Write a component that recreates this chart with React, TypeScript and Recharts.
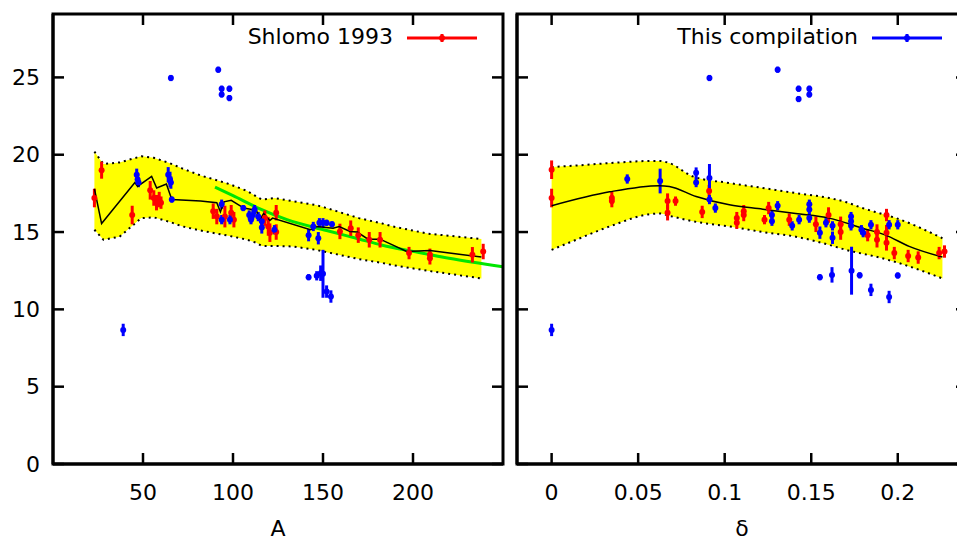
import React from 'react';
import { ComposedChart, XAxis, YAxis, Scatter, Line, Area, ErrorBar } from 'recharts';

// ---- left panel: radius vs mass number A ----
const shlomoA = [23, 27, 44, 54, 56, 57.5, 59, 60, 89, 91, 95.5, 99, 100.5, 117.7, 119.6, 120.5, 124, 124, 159.4, 165.4, 169.6, 175.7, 181.7, 197.8, 209.4, 209.4, 233, 239];
const shlomoR = [17.2, 19.0, 16.1, 17.7, 17.2, 16.9, 17.1, 16.9, 16.35, 16.0, 16.0, 16.25, 15.8, 15.9, 15.36, 14.96, 16.25, 15.0, 15.04, 15.25, 14.8, 14.5, 14.5, 13.64, 13.53, 13.3, 13.53, 13.74];
const shlomoErr = [0.6, 0.55, 0.6, 0.6, 0.5, 0.5, 0.5, 0.4, 0.5, 0.5, 0.7, 0.5, 0.5, 0.5, 0.6, 0.6, 0.5, 0.5, 0.5, 0.5, 0.5, 0.5, 0.5, 0.4, 0.4, 0.4, 0.5, 0.5];

const compA = [39, 65.5, 91.8, 93.7, 93.7, 98, 98, 46.5, 47, 47.5, 64, 65, 65.5, 66, 93.7, 93.7, 98.3, 105.7, 109, 110, 111, 112, 114, 116, 116, 123, 142, 144.6, 147.4, 148, 150, 152, 155, 142, 146.5, 148.7, 150, 152, 154.4];
const compR = [8.67, 24.96, 25.5, 24.27, 23.9, 24.27, 23.66, 18.7, 18.4, 18.2, 18.7, 18.4, 18.2, 17.1, 16.8, 15.8, 15.8, 16.55, 16.1, 15.8, 16.1, 16.45, 16.0, 15.7, 15.3, 15.15, 14.8, 15.36, 14.6, 15.6, 15.6, 15.6, 15.5, 12.08, 12.17, 12.34, 12.3, 11.15, 10.83];
const compErr = [0.4, 0.2, 0.2, 0.2, 0.2, 0.2, 0.2, 0.4, 0.4, 0.3, 0.5, 0.5, 0.4, 0.2, 0.3, 0.3, 0.3, 0.2, 0.3, 0.3, 0.3, 0.3, 0.3, 0.3, 0.4, 0.3, 0.4, 0.3, 0.4, 0.3, 0.3, 0.2, 0.2, 0.2, 0.3, 0.5, 1.55, 0.4, 0.4];

const bandA = [23, 28, 37, 49, 56, 65, 72, 82, 91, 98, 108, 113, 116, 123, 133, 146, 152, 170, 183, 189, 208, 238];
const bandALo = [15.15, 14.5, 14.7, 15.9, 15.95, 15.65, 15.36, 15.1, 14.9, 14.75, 14.5, 14.3, 14.1, 14.1, 14.07, 13.85, 13.7, 13.25, 13.0, 12.85, 12.5, 12.0];
const bandAHi = [20.2, 19.4, 19.5, 19.9, 19.8, 19.45, 19.1, 18.66, 18.35, 18.1, 17.65, 17.3, 17.1, 17.2, 17.0, 16.75, 16.55, 15.9, 15.55, 15.36, 14.9, 14.55];

const fitA = [23, 27, 45.5, 47, 54.8, 57.6, 63, 66, 82, 91, 93, 95, 99, 106, 113, 115, 117, 120.5, 122, 143, 146.5, 155.6, 159, 165, 169, 175, 181.7, 196.5, 209.4, 238];
const fitAR = [17.8, 15.55, 18.2, 17.95, 18.6, 17.85, 18.1, 17.1, 17.0, 16.9, 16.3, 16.95, 17.05, 16.55, 16.4, 15.8, 16.2, 15.75, 15.9, 15.15, 15.36, 15.25, 15.36, 15.04, 15.0, 14.54, 14.54, 13.74, 13.8, 13.38];

const greenA = [90, 100, 115, 130, 152, 170, 183, 200, 220, 250];
const greenR = [17.9, 17.35, 16.5, 15.8, 15.1, 14.55, 14.15, 13.75, 13.3, 12.75];

// ---- right panel: radius vs deformation delta ----
const shlomoD = [0, 0, 0.0348, 0.0348, 0.067, 0.067, 0.0716, 0.087, 0.091, 0.107, 0.107, 0.111, 0.111, 0.123, 0.1254, 0.1373, 0.1527, 0.16, 0.167, 0.167, 0.1826, 0.188, 0.188, 0.1935, 0.1935, 0.1935, 0.198, 0.206, 0.2118, 0.2239, 0.227];
const shlomoDR = [19.03, 17.2, 17.2, 17.0, 17.0, 16.25, 17.0, 16.3, 17.65, 15.9, 15.6, 16.35, 16.1, 15.8, 16.55, 15.8, 15.5, 16.1, 15.5, 15.0, 14.8, 15.0, 14.5, 16.1, 14.96, 14.3, 13.64, 13.45, 13.35, 13.64, 13.74];
const shlomoDErr = [0.6, 0.6, 0.4, 0.4, 0.5, 0.5, 0.3, 0.4, 0.4, 0.4, 0.4, 0.4, 0.4, 0.3, 0.4, 0.4, 0.5, 0.5, 0.5, 0.5, 0.4, 0.5, 0.5, 0.4, 0.5, 0.5, 0.4, 0.4, 0.4, 0.4, 0.4];

const compD = [0, 0.0437, 0.0627, 0.0835, 0.0835, 0.0912, 0.0912, 0.0912, 0.0946, 0.1273, 0.1273, 0.1306, 0.1306, 0.139, 0.143, 0.1427, 0.1427, 0.1489, 0.1489, 0.1489, 0.1489, 0.1489, 0.155, 0.1585, 0.1623, 0.1623, 0.173, 0.173, 0.173, 0.179, 0.18, 0.1845, 0.195, 0.2, 0.155, 0.162, 0.1733, 0.178, 0.1845, 0.195, 0.2];
const compDR = [8.67, 18.43, 18.3, 18.83, 18.2, 24.96, 18.5, 17.1, 16.55, 16.1, 15.7, 16.7, 25.5, 15.4, 15.8, 24.27, 23.6, 24.27, 23.9, 16.8, 16.45, 15.9, 14.96, 15.6, 15.4, 14.63, 16.0, 15.7, 15.4, 15.15, 14.96, 15.47, 15.47, 15.47, 12.08, 12.23, 12.5, 12.2, 11.26, 10.8, 12.19];
const compDErr = [0.4, 0.3, 0.8, 0.35, 0.3, 0.2, 0.9, 0.3, 0.3, 0.3, 0.3, 0.3, 0.2, 0.3, 0.3, 0.2, 0.2, 0.2, 0.2, 0.3, 0.3, 0.3, 0.4, 0.3, 0.3, 0.4, 0.3, 0.3, 0.3, 0.3, 0.3, 0.3, 0.3, 0.3, 0.2, 0.5, 1.55, 0.2, 0.4, 0.4, 0.2];

const bandD = [0, 0.0142, 0.0335, 0.0585, 0.0623, 0.068, 0.0815, 0.1027, 0.122, 0.141, 0.1604, 0.17, 0.1796, 0.187, 0.199, 0.2258];
const bandDLo = [13.85, 14.5, 15.36, 16.18, 16.2, 16.05, 15.7, 15.36, 15.0, 14.7, 14.17, 13.85, 13.6, 13.42, 13.05, 12.0];
const bandDHi = [19.2, 19.3, 19.46, 19.6, 19.6, 19.46, 18.6, 18.17, 17.85, 17.52, 17.2, 16.94, 16.55, 16.3, 15.9, 14.6];

const fitD = [0, 0.0335, 0.0623, 0.068, 0.0835, 0.1027, 0.122, 0.141, 0.1604, 0.1796, 0.193, 0.2066, 0.2258];
const fitDR = [16.7, 17.6, 18.0, 17.95, 17.3, 16.76, 16.48, 16.2, 15.9, 15.25, 14.8, 14.07, 13.38];

const yTicks = [0, 5, 10, 15, 20, 25];
const aTicks = [50, 100, 150, 200];
const dTicks = [0, 0.05, 0.1, 0.15, 0.2];
const Y_MAX = 29.1;

const FONT = '"DejaVu Sans", sans-serif';
const TICK = 11;
const TOP = 14;
const HEIGHT = 537;
const X_AXIS_H = 73;
const PLOT_H = HEIGHT - TOP - X_AXIS_H;

const pts = (xs: number[], ys: number[], es: number[]) => xs.map((x, i) => ({ x, y: ys[i], e: es[i] }));
const curve = (xs: number[], ys: number[]) => xs.map((x, i) => ({ x, y: ys[i] }));
const band = (xs: number[], lo: number[], hi: number[]) =>
  xs.map((x, i) => ({ x, lo: lo[i], hi: hi[i], range: [lo[i], hi[i]] }));

const dot = (color: string) => (p: any) => <circle cx={p.cx} cy={p.cy} r={3} fill={color} />;

interface PanelProps {
  width: number;
  right: number;
  leftWidth: number;
  xDomain: [number, number];
  xTicks: number[];
  xTitle: string;
  yLabels: boolean;
  smooth: boolean;
  bandData: { x: number; lo: number; hi: number; range: number[] }[];
  fit: { x: number; y: number }[];
  green?: { x: number; y: number }[];
  red: { x: number; y: number; e: number }[];
  blue: { x: number; y: number; e: number }[];
}

function Panel(p: PanelProps) {
  const kind = p.smooth ? 'monotone' : 'linear';
  const axisLine = { stroke: '#000', strokeWidth: 3 };
  return (
    <ComposedChart width={p.width} height={HEIGHT} margin={{ top: TOP, right: p.right, bottom: 0, left: 0 }}>
      <XAxis
        dataKey="x"
        type="number"
        domain={p.xDomain}
        ticks={p.xTicks}
        interval={0}
        allowDataOverflow
        height={X_AXIS_H}
        tickSize={0}
        tickMargin={0}
        tickLine={false}
        axisLine={axisLine}
        tick={(t: any) => (
          <text x={t.x} y={t.y + 28} textAnchor="middle" dominantBaseline="central" fontSize={22} fontFamily={FONT} fill="#000">
            {String(t.payload.value)}
          </text>
        )}
        label={{ value: p.xTitle, position: 'insideBottom', offset: 1, fill: '#000', fontSize: 22, fontFamily: FONT }}
      />
      <YAxis
        dataKey="y"
        type="number"
        domain={[0, Y_MAX]}
        ticks={yTicks}
        interval={0}
        allowDataOverflow
        width={p.leftWidth}
        tickSize={0}
        tickMargin={0}
        tickLine={false}
        axisLine={axisLine}
        tick={(t: any) =>
          p.yLabels ? (
            <text x={t.x - 13} y={t.y} textAnchor="end" dominantBaseline="central" fontSize={22} fontFamily={FONT} fill="#000">
              {String(t.payload.value)}
            </text>
          ) : (
            <g />
          )
        }
      />
      <Area data={p.bandData} dataKey="range" type={kind} fill="#ffff00" fillOpacity={1} stroke="none" isAnimationActive={false} />
      <Line data={p.bandData} dataKey="lo" type={kind} stroke="#000" strokeWidth={2} strokeDasharray="2 4" dot={false} isAnimationActive={false} />
      <Line data={p.bandData} dataKey="hi" type={kind} stroke="#000" strokeWidth={2} strokeDasharray="2 4" dot={false} isAnimationActive={false} />
      {p.green && (
        <Line data={p.green} dataKey="y" type="monotone" stroke="#00e600" strokeWidth={3} dot={false} isAnimationActive={false} />
      )}
      <Scatter data={p.red} fill="#ff0000" shape={dot('#ff0000')} isAnimationActive={false}>
        <ErrorBar dataKey="e" direction="y" width={0} stroke="#ff0000" strokeWidth={3} />
      </Scatter>
      <Scatter data={p.blue} fill="#0000ff" shape={dot('#0000ff')} isAnimationActive={false}>
        <ErrorBar dataKey="e" direction="y" width={0} stroke="#0000ff" strokeWidth={3} />
      </Scatter>
      <Line data={p.fit} dataKey="y" type={kind} stroke="#000" strokeWidth={1.5} dot={false} isAnimationActive={false} />
    </ComposedChart>
  );
}

// gnuplot-style box: full border with inward ticks on all four sides
function Frame({ left, right, xDomain, xTicks }: { left: number; right: number; xDomain: [number, number]; xTicks: number[] }) {
  const bottom = TOP + PLOT_H;
  const sx = (v: number) => left + ((v - xDomain[0]) / (xDomain[1] - xDomain[0])) * (right - left);
  const sy = (v: number) => bottom - (v / Y_MAX) * PLOT_H;
  const k = { stroke: '#000', strokeWidth: 2.5 };
  return (
    <svg
      style={{ position: 'absolute', left: 0, top: 0, zIndex: 3, pointerEvents: 'none' }}
      width={957}
      height={HEIGHT}
    >
      <rect x={left} y={TOP} width={right - left} height={PLOT_H} fill="none" stroke="#000" strokeWidth={3} />
      {xTicks.map((v) => (
        <g key={`x${v}`}>
          <line x1={sx(v)} x2={sx(v)} y1={TOP} y2={TOP + TICK} {...k} />
          <line x1={sx(v)} x2={sx(v)} y1={bottom} y2={bottom - TICK} {...k} />
        </g>
      ))}
      {yTicks.map((v) => (
        <g key={`y${v}`}>
          <line x1={left} x2={left + TICK} y1={sy(v)} y2={sy(v)} {...k} />
          <line x1={right} x2={right - TICK} y1={sy(v)} y2={sy(v)} {...k} />
        </g>
      ))}
    </svg>
  );
}

function LegendKey({ right, lineX, text, color }: { right: number; lineX: number; text: string; color: string }) {
  return (
    <>
      <div
        style={{
          position: 'absolute', left: right - 300, width: 300, top: 24, textAlign: 'right',
          fontSize: 22, lineHeight: '26px', fontFamily: FONT, color: '#000', zIndex: 4,
        }}
      >
        {text}
      </div>
      <svg style={{ position: 'absolute', left: lineX, top: 30, zIndex: 4 }} width={72} height={16}>
        <line x1={0} x2={70} y1={8} y2={8} stroke={color} strokeWidth={3} />
        <line x1={35} x2={35} y1={4} y2={12} stroke={color} strokeWidth={3} />
        <circle cx={35} cy={8} r={3} fill={color} />
      </svg>
    </>
  );
}

export default function App() {
  return (
    <div style={{ position: 'absolute', left: 0, top: 0, width: 957, height: HEIGHT, overflow: 'hidden', background: '#fff' }}>
      <div style={{ position: 'absolute', left: 0, top: 0 }}>
        <Panel
          width={510}
          right={7}
          leftWidth={53}
          xDomain={[0, 250]}
          xTicks={aTicks}
          xTitle="A"
          yLabels
          smooth={false}
          bandData={band(bandA, bandALo, bandAHi)}
          fit={curve(fitA, fitAR)}
          green={curve(greenA, greenR)}
          red={pts(shlomoA, shlomoR, shlomoErr)}
          blue={pts(compA, compR, compErr)}
        />
      </div>
      <div style={{ position: 'absolute', left: 510, top: 0 }}>
        <Panel
          width={460}
          right={3}
          leftWidth={7}
          xDomain={[-0.02, 0.24]}
          xTicks={dTicks}
          xTitle="δ"
          yLabels={false}
          smooth
          bandData={band(bandD, bandDLo, bandDHi)}
          fit={curve(fitD, fitDR)}
          red={pts(shlomoD, shlomoDR, shlomoDErr)}
          blue={pts(compD, compDR, compDErr)}
        />
      </div>
      <Frame left={53} right={503} xDomain={[0, 250]} xTicks={aTicks} />
      <Frame left={517} right={967} xDomain={[-0.02, 0.24]} xTicks={dTicks} />
      <LegendKey right={393} lineX={407} text="Shlomo 1993" color="#ff0000" />
      <LegendKey right={858} lineX={872} text="This compilation" color="#0000ff" />
    </div>
  );
}
